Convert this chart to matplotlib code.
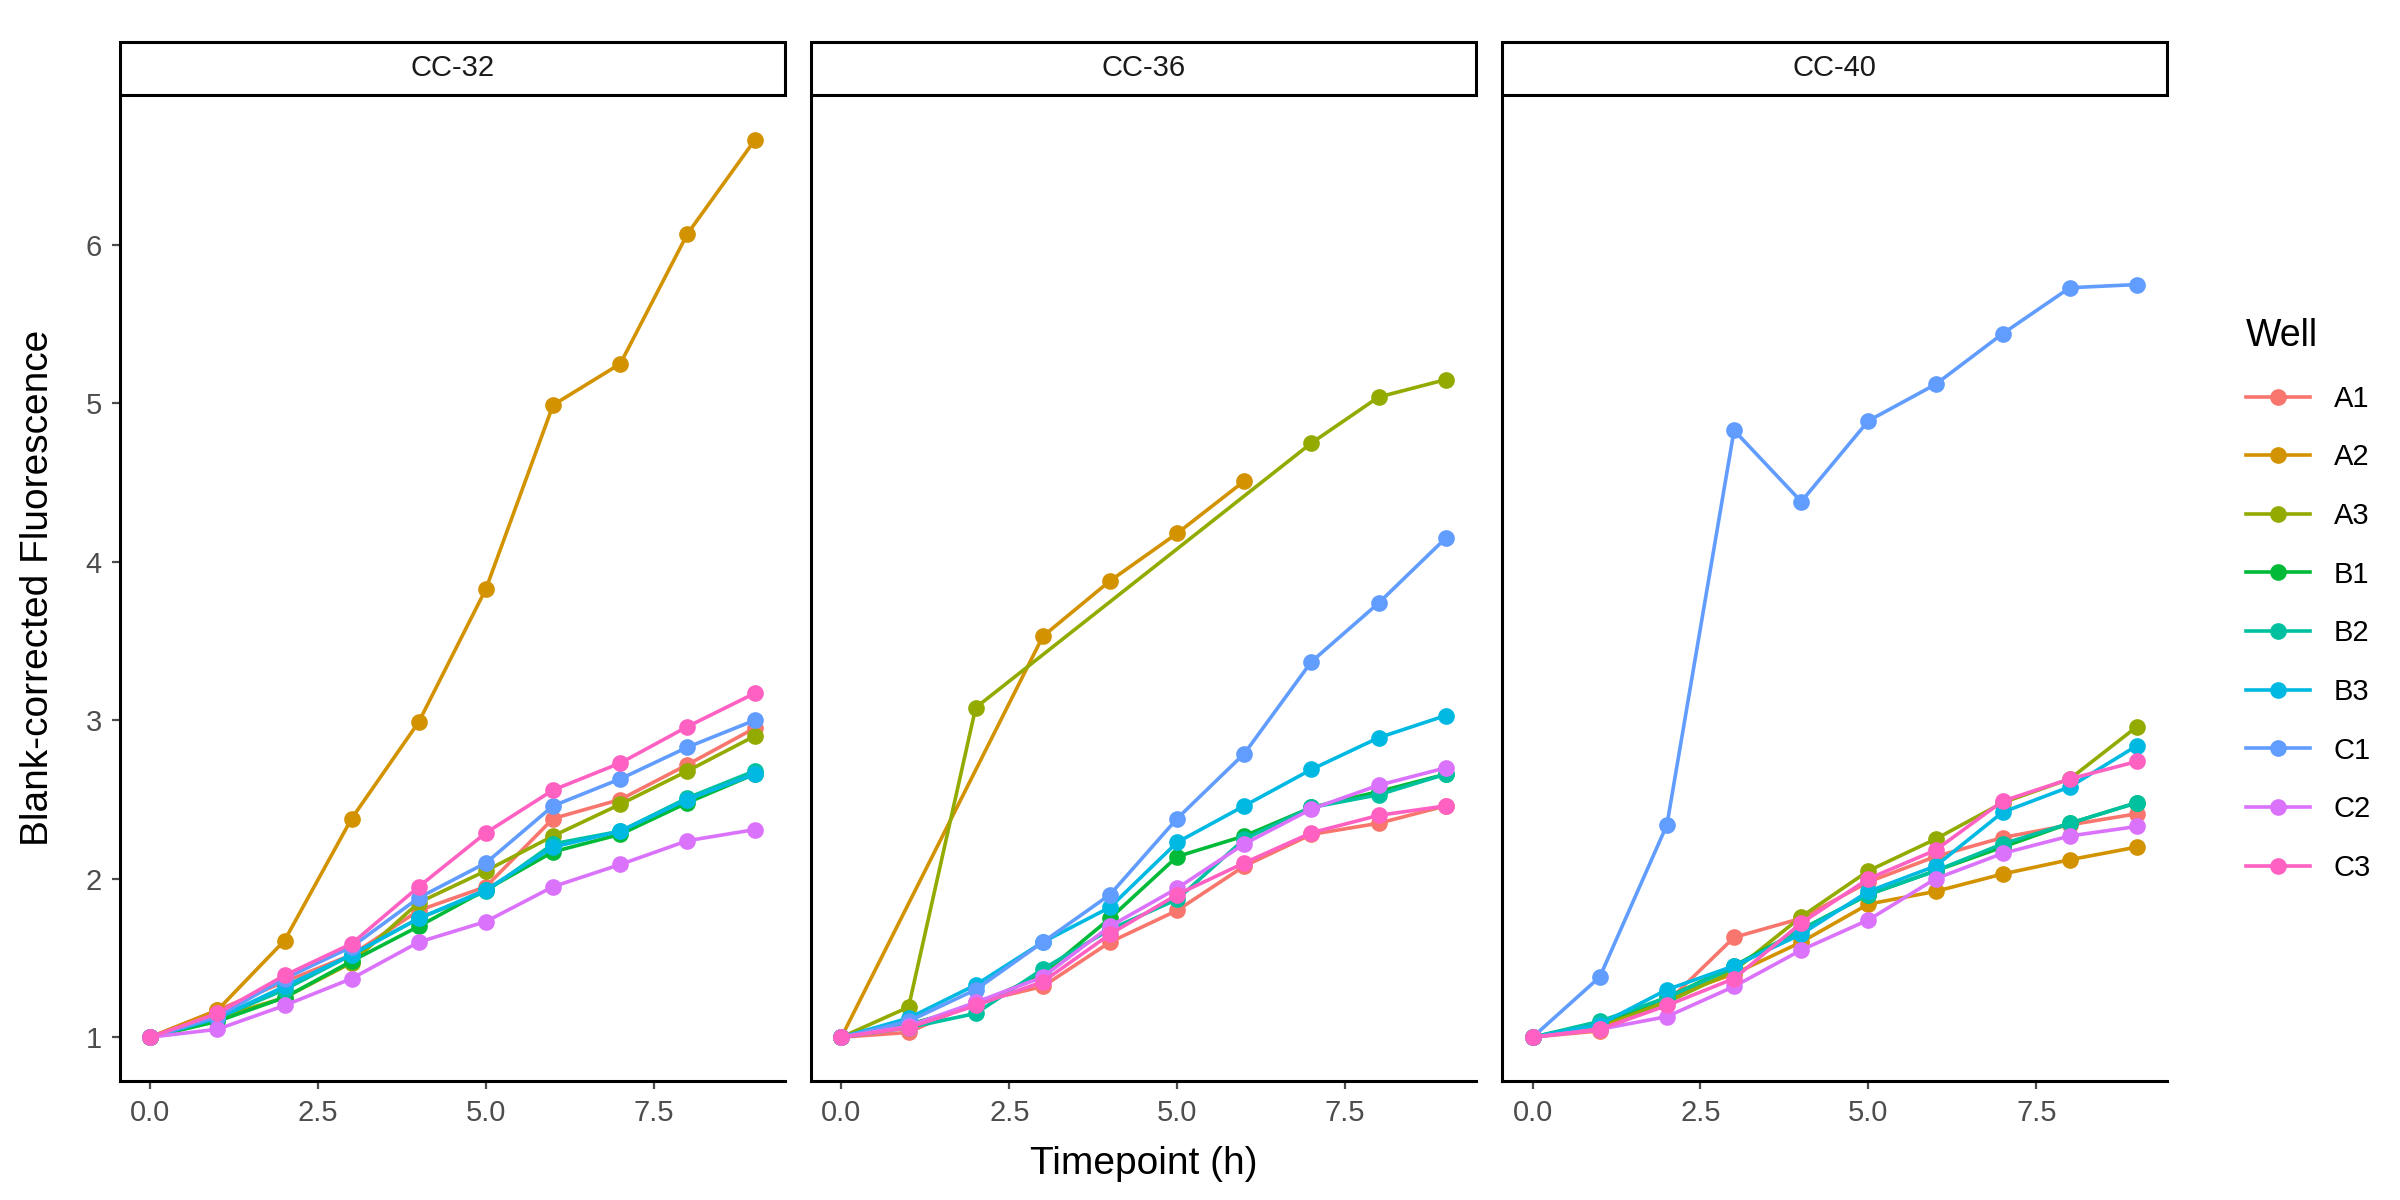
import numpy as np
import matplotlib
matplotlib.use("Agg")
import matplotlib.pyplot as plt
from matplotlib.patches import Rectangle
from matplotlib.lines import Line2D

plt.rcParams["font.family"] = ["Liberation Sans", "DejaVu Sans"]

facets = ["CC-32", "CC-36", "CC-40"]
wells = ["A1", "A2", "A3", "B1", "B2", "B3", "C1", "C2", "C3"]
colors = ["#F8766D", "#D39200", "#93AA00", "#00BA38", "#00C19F",
          "#00B9E3", "#619CFF", "#DB72FB", "#FF61C3"]
t_full = list(range(10))

# timepoints per facet/well (some wells have missing timepoints in CC-36)
times = {
    ("CC-36", "A2"): [0, 3, 4, 5, 6],
    ("CC-36", "A3"): [0, 1, 2, 7, 8, 9],
}

cc32 = {
    "A1": [1, 1.17, 1.35, 1.52, 1.80, 1.95, 2.38, 2.50, 2.72, 2.95],
    "A2": [1, 1.17, 1.61, 2.38, 2.99, 3.83, 4.99, 5.25, 6.07, 6.66],
    "A3": [1, 1.12, 1.25, 1.47, 1.85, 2.05, 2.27, 2.47, 2.68, 2.90],
    "B1": [1, 1.10, 1.25, 1.48, 1.70, 1.93, 2.17, 2.28, 2.48, 2.66],
    "B2": [1, 1.12, 1.30, 1.52, 1.75, 1.92, 2.22, 2.30, 2.51, 2.68],
    "B3": [1, 1.12, 1.32, 1.52, 1.75, 1.93, 2.20, 2.30, 2.50, 2.66],
    "C1": [1, 1.13, 1.37, 1.57, 1.88, 2.10, 2.46, 2.63, 2.83, 3.00],
    "C2": [1, 1.05, 1.20, 1.37, 1.60, 1.73, 1.95, 2.09, 2.24, 2.31],
    "C3": [1, 1.15, 1.39, 1.59, 1.95, 2.29, 2.56, 2.73, 2.96, 3.17],
}
cc36 = {
    "A1": [1, 1.03, 1.22, 1.32, 1.60, 1.80, 2.08, 2.28, 2.35, 2.46],
    "A2": [1, 3.53, 3.88, 4.18, 4.51],
    "A3": [1, 1.19, 3.08, 4.75, 5.04, 5.15],
    "B1": [1, 1.08, 1.20, 1.40, 1.75, 2.14, 2.27, 2.45, 2.55, 2.66],
    "B2": [1, 1.06, 1.15, 1.43, 1.68, 1.87, 2.25, 2.45, 2.53, 2.66],
    "B3": [1, 1.12, 1.33, 1.60, 1.82, 2.23, 2.46, 2.69, 2.89, 3.03],
    "C1": [1, 1.10, 1.30, 1.60, 1.90, 2.38, 2.79, 3.37, 3.74, 4.15],
    "C2": [1, 1.07, 1.22, 1.38, 1.70, 1.94, 2.22, 2.44, 2.59, 2.70],
    "C3": [1, 1.06, 1.20, 1.35, 1.65, 1.90, 2.10, 2.29, 2.40, 2.46],
}
cc40 = {
    "A1": [1, 1.04, 1.22, 1.63, 1.75, 1.98, 2.14, 2.26, 2.34, 2.41],
    "A2": [1, 1.06, 1.25, 1.40, 1.60, 1.84, 1.92, 2.03, 2.12, 2.20],
    "A3": [1, 1.08, 1.22, 1.42, 1.76, 2.05, 2.25, 2.48, 2.63, 2.96],
    "B1": [1, 1.09, 1.25, 1.45, 1.68, 1.90, 2.05, 2.20, 2.35, 2.48],
    "B2": [1, 1.10, 1.25, 1.44, 1.68, 1.90, 2.05, 2.22, 2.35, 2.48],
    "B3": [1, 1.08, 1.30, 1.45, 1.65, 1.92, 2.08, 2.42, 2.58, 2.84],
    "C1": [1, 1.38, 2.34, 4.83, 4.38, 4.89, 5.12, 5.44, 5.73, 5.75],
    "C2": [1, 1.05, 1.13, 1.32, 1.55, 1.74, 2.00, 2.16, 2.27, 2.33],
    "C3": [1, 1.05, 1.20, 1.37, 1.72, 2.00, 2.18, 2.49, 2.63, 2.74],
}
data = {"CC-32": cc32, "CC-36": cc36, "CC-40": cc40}

fig = plt.figure(figsize=(12, 6), dpi=200)
left, width, gap = 0.050, 0.277, 0.011
bottom, top = 0.0995, 0.92
strip_h = 0.044

for i, facet in enumerate(facets):
    x0 = left + i * (width + gap)
    ax = fig.add_axes([x0, bottom, width, top - bottom])
    for well, col in zip(wells, colors):
        y = data[facet][well]
        t = times.get((facet, well), t_full)
        ax.plot(t, y, color=col, lw=1.3, marker="o", ms=5, zorder=2)
    ax.set_xlim(-0.45, 9.45)
    ax.set_ylim(0.726, 6.94)
    ax.set_xticks([0, 2.5, 5, 7.5])
    ax.set_xticklabels(["0.0", "2.5", "5.0", "7.5"])
    ax.set_yticks([1, 2, 3, 4, 5, 6])
    for s in ["top", "right"]:
        ax.spines[s].set_visible(False)
    for s in ["left", "bottom"]:
        ax.spines[s].set_linewidth(1.1)
    ax.tick_params(colors="#4D4D4D", labelsize=10.5, width=0.8, length=3)
    if i > 0:
        ax.set_yticklabels([])
        ax.tick_params(axis="y", length=0)
    # facet strip
    fig.patches.append(Rectangle((x0, top + 0.001), width, strip_h,
                                 transform=fig.transFigure, fill=False,
                                 edgecolor="black", lw=1.1))
    fig.text(x0 + width / 2, top + 0.001 + strip_h / 2, facet,
             ha="center", va="center", fontsize=10.5, color="#1A1A1A")

fig.text(0.016, (bottom + top) / 2, "Blank-corrected Fluorescence",
         rotation=90, ha="center", va="center", fontsize=14)
fig.text(left + 1.5 * width + gap, 0.03, "Timepoint (h)",
         ha="center", va="center", fontsize=14)

handles = [Line2D([0], [0], color=c, lw=1.3, marker="o", ms=5) for c in colors]
fig.legend(handles, wells, title="Well", loc="center left",
           bbox_to_anchor=(0.925, 0.50), frameon=False, fontsize=10.5,
           title_fontsize=13.5, labelspacing=1.05, handlelength=2.2,
           alignment="left")

fig.savefig("out.png", dpi=200)
